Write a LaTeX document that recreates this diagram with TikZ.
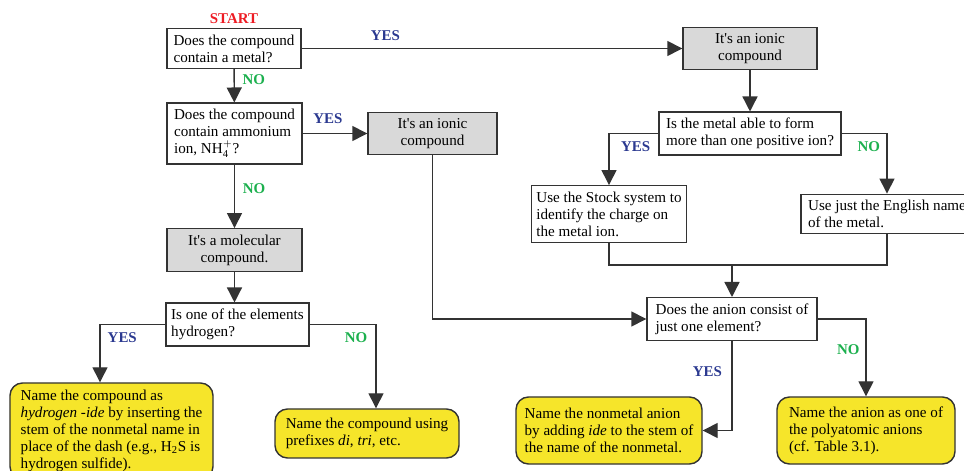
\documentclass[tikz,border=0pt]{standalone}
\usepackage{fontspec}
\setmainfont{Liberation Serif}
\usetikzlibrary{arrows.meta,positioning}
\definecolor{boxgrey}{HTML}{D9D9D9}
\definecolor{notegold}{HTML}{F6E52A}
\definecolor{yesblue}{HTML}{2B3990}
\definecolor{nogreen}{HTML}{1CB04E}
\definecolor{startred}{HTML}{ED1C24}
\definecolor{linegrey}{HTML}{333333}

\begin{document}
\begin{tikzpicture}[->,>={Triangle[length=0.3cm,width=0.3cm]},line width=0.8pt,
  font=\fontsize{8.6}{9.7}\selectfont]
   \tikzstyle{question}=[draw=linegrey,fill=white,align=left,inner xsep=0.1cm,minimum height=0.78cm]
   \tikzstyle{verdict}=[draw=linegrey,fill=boxgrey,align=center,minimum height=0.78cm]
   \tikzstyle{rule}=[draw=linegrey,fill=notegold,rounded corners=0.25cm,align=left,inner xsep=0.15cm]
   \tikzstyle{yes}=[font=\fontsize{8.5}{10}\selectfont\bfseries,text=yesblue]
   \tikzstyle{no}=[font=\fontsize{8.5}{10}\selectfont\bfseries,text=nogreen]
   \useasboundingbox (0,0) rectangle (19.28,-9.42);

   % left column
   \node[question,minimum width=2.68cm] (metal)  at (4.68,-0.97) {Does the compound\\contain a metal?};
   \node[font=\fontsize{8.5}{10}\selectfont\bfseries,text=startred,above=-1pt of metal] (start) {START};
   \node[question,minimum width=2.70cm,minimum height=1.14cm] (ammon) at (4.69,-2.67)
        {Does the compound\\contain ammonium\\ion, NH$_{\mathrm{4}}^{\scriptscriptstyle +}$?};
   \node[verdict,minimum width=2.58cm] (ionicB) at (8.65,-2.67) {It\textquotesingle s an ionic\\compound};
   \node[verdict,minimum width=2.70cm,minimum height=0.76cm] (molec) at (4.69,-5.00) {It\textquotesingle s a molecular\\compound.};
   \node[question,minimum width=2.82cm] (hydro) at (4.75,-6.49) {Is one of the elements\\hydrogen?};
   \node[rule,minimum width=4.06cm,minimum height=1.92cm] (hyname) at (2.23,-8.62)
        {Name the compound as\\\textit{hydrogen -ide} by inserting the\\stem of the nonmetal name in\\place of the dash (e.g., H\textsubscript{2}S is\\hydrogen sulfide).};
   \node[rule,minimum width=3.68cm,minimum height=0.98cm] (prefix) at (7.34,-8.67)
        {Name the compound using\\prefixes \textit{di}, \textit{tri}, etc.};

   % right column
   \node[verdict,minimum width=2.68cm] (ionicA) at (15.00,-0.97) {It\textquotesingle s an ionic\\compound};
   \node[question,minimum width=3.64cm] (multi) at (15.00,-2.67) {Is the metal able to form\\more than one positive ion?};
   \node[question,minimum width=3.08cm,minimum height=1.12cm] (stock) at (12.18,-4.28)
        {Use the Stock system to\\identify the charge on\\the metal ion.};
   \node[question,minimum width=3.44cm,minimum height=0.76cm] (english) at (17.74,-4.28)
        {Use just the English name\\of the metal.};
   \coordinate (join) at (14.64,-5.30);
   \node[question,minimum width=3.40cm,minimum height=0.76cm] (anion) at (14.64,-6.38)
        {Does the anion consist of\\just one element?};
   \node[rule,minimum width=3.72cm,minimum height=1.34cm] (ide) at (12.18,-8.61)
        {Name the nonmetal anion\\by adding \textit{ide} to the stem of\\the name of the nonmetal.};
   \node[rule,minimum width=3.56cm,minimum height=1.34cm] (poly) at (17.32,-8.61)
        {Name the anion as one of\\the polyatomic anions\\(cf. Table 3.1).};

   \begin{scope}[draw=linegrey]
   \draw (metal) -- node[yes,above=1pt,pos=0.22] {YES} (ionicA);
   \draw (metal) -- node[no,right=1pt,pos=0.32] {NO} (ammon);
   \draw (ammon) -- node[yes,above=2pt,pos=0.39] {YES} (ionicB);
   \draw (ammon) -- node[no,right=1pt,pos=0.38] {NO} (molec);
   \draw (molec.south) -- (molec.south |- hydro.north);
   \draw (hydro.west) -| node[yes,pos=0.33,below=1pt] {YES} (hyname.north -| 2.00,0);
   \draw (hydro.east) -| node[no,pos=0.35,below=1pt] {NO} (prefix.north -| 7.52,0);
   \draw (ionicB.south) |- (anion.west);
   \draw (ionicA) -- (multi);
   \draw (multi.west) -| node[yes,pos=0.23,below=1pt] {YES} (stock.north);
   \draw (multi.east) -| node[no,pos=0.3,below=1pt] {NO} (english.north);
   \draw[-] (stock.south) |- (join) -| (english.south);
   \draw (join) -- (anion.north);
   \draw (anion.south) |- node[yes,pos=0.17,left=2pt] {YES} (ide.east);
   \draw (anion.east) -| node[no,pos=0.7,left=0pt] {NO} (poly.north);
   \end{scope}
\end{tikzpicture}
\end{document}
